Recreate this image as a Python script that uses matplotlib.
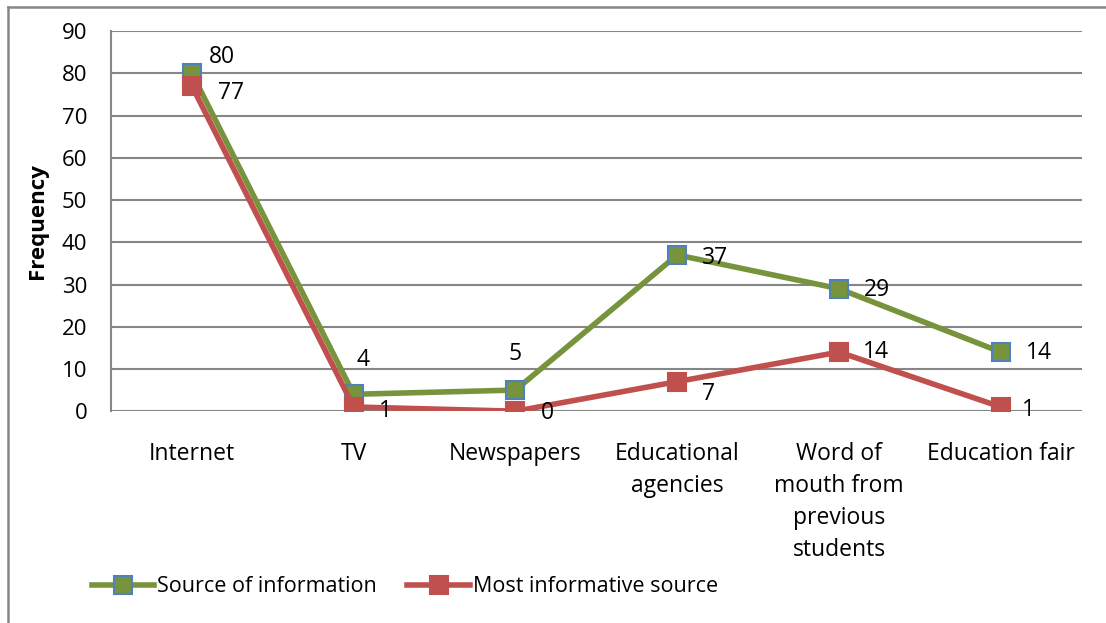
import matplotlib.pyplot as plt
from matplotlib.lines import Line2D

plt.rcParams['font.family'] = ['Open Sans', 'DejaVu Sans']

categories = ['Internet', 'TV', 'Newspapers', 'Educational\nagencies',
              'Word of\nmouth from\nprevious\nstudents', 'Education fair']
source_info = [80, 4, 5, 37, 29, 14]
most_informative = [77, 1, 0, 7, 14, 1]
y_ticks = [0, 10, 20, 30, 40, 50, 60, 70, 80, 90]

# label offsets in points (dx, dy) for each data label
green_off = [(12, 12), (2, 25), (-5, 26), (18, -2), (18, -1), (18, -1)]
red_off = [(19, -5), (18, -3), (18, -1), (18, -9), (17, 0), (15, -2)]

fig = plt.figure(figsize=(11.06, 6.23), dpi=100)
ax = fig.add_axes([0.1004, 0.340, 0.8776, 0.610])

x = range(len(categories))
ax.plot(x, source_info, color='#77933C', lw=4, marker='s', ms=13,
        mfc='#77933C', mec='#4F81BD', mew=1.5, label='Source of information', zorder=3)
ax.plot(x, most_informative, color='#C0504D', lw=4, marker='s', ms=13,
        mfc='#C0504D', mec='#C0504D', mew=1.5, label='Most informative source', zorder=4)

for i, v in enumerate(source_info):
    ax.annotate(str(v), (i, v), xytext=green_off[i], textcoords='offset points',
                ha='left', va='center', fontsize=16.5, zorder=5)
for i, v in enumerate(most_informative):
    ax.annotate(str(v), (i, v), xytext=red_off[i], textcoords='offset points',
                ha='left', va='center', fontsize=16.5, zorder=5)

ax.set_xlim(-0.5, len(categories) - 0.5)
ax.set_ylim(0, 90)
ax.set_yticks(y_ticks)
ax.set_xticks(list(x))
ax.set_xticklabels(categories, fontsize=16.5, linespacing=1.45)
ax.tick_params(axis='y', labelsize=16, length=0, pad=17)
ax.tick_params(axis='x', length=0, pad=22)
for lab in ax.get_xticklabels():
    lab.set_va('top')

ax.grid(axis='y', color='#868686', lw=1.5)
ax.set_axisbelow(True)
for s in ['top', 'right', 'bottom']:
    ax.spines[s].set_visible(False)
ax.spines['left'].set_color('#868686')
ax.spines['left'].set_linewidth(1.5)

ax.set_ylabel('Frequency', fontsize=16, fontweight='bold', labelpad=10)

ax.legend(loc='center left', bbox_to_anchor=(0.083, 1 - 587 / 623), bbox_transform=fig.transFigure,
          ncol=2, frameon=False, fontsize=15.5, handlelength=2.9, handletextpad=0.15,
          columnspacing=1.4, borderaxespad=0, borderpad=0)

# outer chart border (top and left only)
fig.add_artist(Line2D([8 / 1106, 1.0], [1 - 7 / 623, 1 - 7 / 623], transform=fig.transFigure,
                      color='#868686', lw=1.8))
fig.add_artist(Line2D([8 / 1106, 8 / 1106], [0, 1 - 7 / 623], transform=fig.transFigure,
                      color='#868686', lw=1.8))

fig.savefig('out.png', dpi=100)
